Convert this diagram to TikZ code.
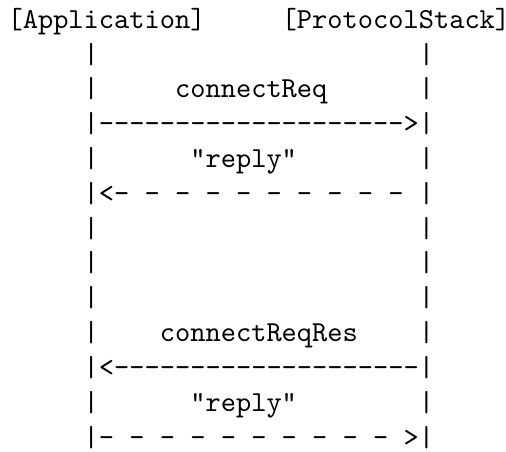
\documentclass[tikz,border=0pt]{standalone}
\usetikzlibrary{positioning}

\begin{document}
\begin{tikzpicture}[x=5.25pt,y=12pt,
		ascii/.style={font=\ttfamily,inner sep=0pt,anchor=base west}]
		\useasboundingbox (-2.41pt,9.75pt) rectangle (172pt,-146pt);
		
		% Headers
		\node[ascii] (app) at (0,0) {[Application]};
		\node[ascii] (stack) at (18,0) {[ProtocolStack]};
		
		% Lifelines
		\foreach \r in {1,2,4,6,7,8,9,11} {
			\node[ascii] (appbar\r) at (5,-\r) {|};
			\node[ascii] (stackbar\r) at (27,-\r) {|};
		}
		
		% Request
		\node[ascii] (connreq) at (11,-2) {connectReq};
		\node[ascii] (connreqarrow) at (5,-3) {|-------------------->|};
		\node[ascii] (reply1) at (12,-4) {"reply"};
		\node[ascii] (reply1arrow) at (5,-5) {|<- - - - - - - - - - |};
		
		% Response
		\node[ascii] (connres) at (10,-9) {connectReqRes};
		\node[ascii] (connresarrow) at (5,-10) {|<--------------------|};
		\node[ascii] (reply2) at (12,-11) {"reply"};
		\node[ascii] (reply2arrow) at (5,-12) {|- - - - - - - - - - >|};
		
		\end{tikzpicture}
\end{document}
